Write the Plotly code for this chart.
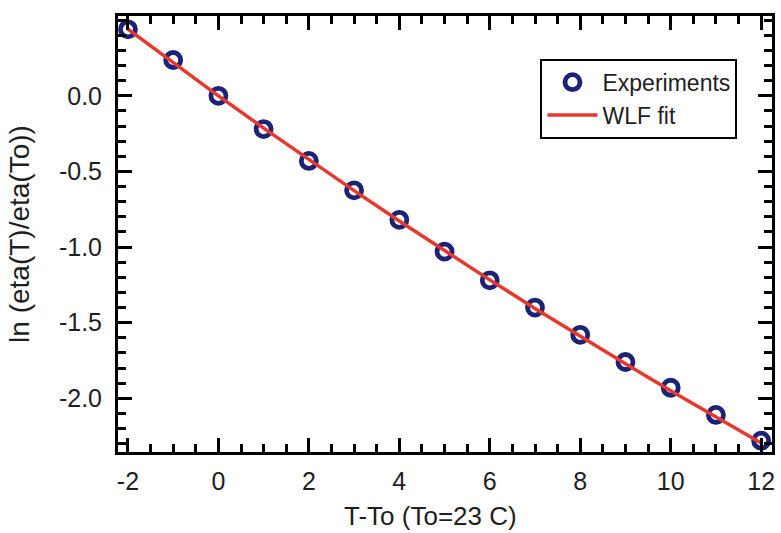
import plotly.graph_objects as go

# Temperature offset from the reference temperature (To = 23 C)
dT = [-2, -1, 0, 1, 2, 3, 4, 5, 6, 7, 8, 9, 10, 11, 12]

# Measured ln(eta(T)/eta(To))
ln_ratio_exp = [0.44, 0.237, 0.0, -0.22, -0.43, -0.625, -0.82, -1.03,
                -1.22, -1.40, -1.58, -1.76, -1.93, -2.11, -2.28]

# WLF fit evaluated at the same offsets
ln_ratio_fit = [0.441, 0.218, 0.0, -0.2135, -0.4226, -0.627, -0.828, -1.024,
                -1.217, -1.406, -1.591, -1.772, -1.950, -2.124, -2.295]

# Tick positions and labels (plain hyphen as the minus sign)
x_tickvals = [-2, 0, 2, 4, 6, 8, 10, 12]
x_ticktext = ["-2", "0", "2", "4", "6", "8", "10", "12"]
y_tickvals = [0.0, -0.5, -1.0, -1.5, -2.0]
y_ticktext = ["0.0", "-0.5", "-1.0", "-1.5", "-2.0"]

x_title = "T-To (To=23 C)"
y_title = "ln (eta(T)/eta(To))"

FONT = "Liberation Sans, Arial, Helvetica, sans-serif"
INK = "#1e1e1e"

fig = go.Figure()

fig.add_trace(go.Scatter(
    x=dT, y=ln_ratio_exp, mode="markers", name="Experiments",
    marker=dict(symbol="circle-open", size=15, color="#1b2278",
                line=dict(width=4.8, color="#1b2278")),
    cliponaxis=False,
))

fig.add_trace(go.Scatter(
    x=dT, y=ln_ratio_fit, mode="lines", name="WLF fit",
    line=dict(color="#e8382c", width=3.5),
    cliponaxis=False,
))

axis_common = dict(
    showline=True, linecolor="black", linewidth=3, mirror="allticks",
    ticks="inside", tickcolor="black", tickwidth=2.5, ticklen=14,
    showgrid=False, zeroline=False,
    tickfont=dict(family=FONT, size=25, color=INK),
)

fig.update_xaxes(
    **axis_common,
    range=[-2.22, 12.24], tickmode="array",
    tickvals=x_tickvals, ticktext=x_ticktext,
    ticklabelstandoff=5,
    minor=dict(ticks="inside", dtick=0.5, tick0=0, ticklen=8,
               tickwidth=2.5, tickcolor="black", showgrid=False),
)

fig.update_yaxes(
    **axis_common,
    range=[-2.355, 0.528], tickmode="array",
    tickvals=y_tickvals, ticktext=y_ticktext,
    ticklabelstandoff=8,
    minor=dict(ticks="inside", dtick=0.1, tick0=0, ticklen=8,
               tickwidth=2.5, tickcolor="black", showgrid=False),
    title=dict(text=y_title, font=dict(family=FONT, size=28, color=INK),
               standoff=22),
)

# x-axis title placed as a paper annotation below the tick labels
fig.add_annotation(
    text=x_title, xref="paper", yref="paper", x=0.478, y=0,
    xanchor="center", yanchor="middle", yshift=-64, showarrow=False,
    font=dict(family=FONT, size=26, color=INK),
)

fig.update_layout(
    width=781, height=533,
    margin=dict(l=118, r=6, t=16, b=81),
    paper_bgcolor="white", plot_bgcolor="white",
    showlegend=True,
    legend=dict(
        x=0.646, y=0.902, xanchor="left", yanchor="top",
        bordercolor="black", borderwidth=2, bgcolor="white",
        font=dict(family=FONT, size=23, color=INK),
        itemwidth=50, tracegroupgap=0,
    ),
)

fig.write_html("out.html")
